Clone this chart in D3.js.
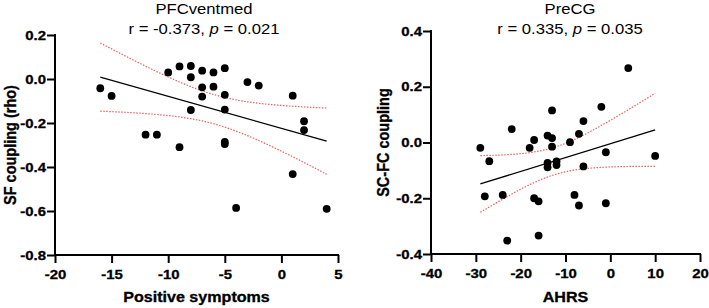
<!DOCTYPE html>
<html>
<head>
<meta charset="utf-8">
<script src="https://cdn.jsdelivr.net/npm/d3@7"></script>
<style>
  body { margin: 0; background: #fff; }
  svg { display: block; font-family: "Liberation Sans", Arial, sans-serif; }
  .axis path, .axis line { stroke: #000; stroke-width: 2; }
  .axis text { font-size: 13px; font-weight: bold; fill: #000; stroke: #000; stroke-width: 0.3; }
  .title { font-size: 14.5px; fill: #000; }
  .axis-label { font-size: 14px; font-weight: bold; fill: #000; stroke: #000; stroke-width: 0.3; }
</style>
</head>
<body>
<svg id="graphic" width="709" height="308"></svg>
<script>
// Left panel: PFCventmed vs positive symptoms
const pfcX = [-16, -15, -12, -11, -10, -9, -9, -8, -8, -8, -7, -7, -7, -6, -6,
  -5, -5, -5, -5, -5, -4, -3, -2, 1, 1, 2, 2, 4];
const pfcY = [-0.042, -0.077, -0.253, -0.253, 0.030, 0.057, -0.310, 0.059, 0.008, -0.141,
  0.038, -0.038, -0.080, 0.030, -0.035, 0.049, -0.072, -0.139, -0.286, -0.296,
  -0.586, -0.014, -0.030, -0.076, -0.432, -0.192, -0.232, -0.590];

// Right panel: PreCG vs AHRS
const precgX = [-29, -28, -27, -24, -23, -22, -18, -17, -17, -16, -16, -14, -14, -14, -13,
  -13, -13, -12, -12, -9, -8, -7, -7, -6, -6, -2, -1, -1, 4, 10];
const precgY = [-0.019, -0.193, -0.067, -0.188, -0.352, 0.048, -0.019, 0.009, -0.200, -0.211,
  -0.334, 0.025, -0.073, -0.089, 0.115, 0.016, -0.015, -0.068, -0.081, 0.001,
  -0.188, 0.031, -0.226, 0.077, -0.086, 0.128, -0.035, -0.218, 0.267, -0.048];

const panels = [
  {
    xs: pfcX, ys: pfcY,
    title: "PFCventmed", r: "-0.373", p: "0.021",
    xLabel: "Positive symptoms", yLabel: "SF coupling (rho)",
    xDomain: [-20, 5], xTicks: [-20, -15, -10, -5, 0, 5],
    yDomain: [-0.8, 0.2], yTicks: [-0.8, -0.6, -0.4, -0.2, 0.0, 0.2],
    left: 55, right: 338, top: 35, bottom: 255,
    titleX: 204, yLabelX: 16, xLabelY: 302
  },
  {
    xs: precgX, ys: precgY,
    title: "PreCG", r: "0.335", p: "0.035",
    xLabel: "AHRS", yLabel: "SC-FC coupling",
    xDomain: [-40, 20], xTicks: [-40, -30, -20, -10, 0, 10, 20],
    yDomain: [-0.4, 0.4], yTicks: [-0.4, -0.2, 0.0, 0.2, 0.4],
    left: 431, right: 700, top: 31, bottom: 254,
    titleX: 570, yLabelX: 389, xLabelY: 302
  }
];

const stretch = 1.15; // glyphs in the reference are a little wide
const svg = d3.select('#graphic');
// plain hyphen for negative numbers, like the original
const locale = d3.formatLocale({ decimal: ".", thousands: ",", grouping: [3], currency: ["", ""], minus: "-" });

// least squares fit + 95% CI of the mean
function fit(xs, ys) {
  const n = xs.length;
  const mx = d3.mean(xs), my = d3.mean(ys);
  let sxx = 0, sxy = 0;
  xs.forEach((x, i) => { sxx += (x - mx) ** 2; sxy += (x - mx) * (ys[i] - my); });
  const b = sxy / sxx, a = my - b * mx;
  let sse = 0;
  xs.forEach((x, i) => { sse += (ys[i] - (a + b * x)) ** 2; });
  const s = Math.sqrt(sse / (n - 2));
  const t = 2.05;
  return { a, b, band: (x) => t * s * Math.sqrt(1 / n + (x - mx) ** 2 / sxx) };
}

panels.forEach(function (pn) {
  const x = d3.scaleLinear().domain(pn.xDomain).range([pn.left, pn.right]);
  const y = d3.scaleLinear().domain(pn.yDomain).range([pn.bottom, pn.top]);
  const g = svg.append('g');

  // axes
  g.append('g')
    .attr('class', 'axis')
    .attr('transform', `translate(${pn.left},0)`)
    .call(d3.axisLeft(y).tickValues(pn.yTicks).tickSize(8).tickPadding(1)
      .tickFormat(locale.format('.1f')))
    .call(a => a.selectAll('path').attr('d', `M0,${pn.top - 1}V${pn.bottom}`))
    .call(a => a.selectAll('text').attr('x', -9 / stretch).attr('transform', `scale(${stretch},1)`));

  g.append('g')
    .attr('class', 'axis')
    .attr('transform', `translate(0,${pn.bottom})`)
    .call(d3.axisBottom(x).tickValues(pn.xTicks).tickSize(8).tickPadding(7)
      .tickFormat(locale.format('d')))
    .call(a => a.selectAll('path').attr('d', `M${pn.left - 1},0H${pn.right + 1}`))
    .call(a => a.selectAll('text').attr('transform', `scale(${stretch},1)`));

  // fit line and confidence band
  const f = fit(pn.xs, pn.ys);
  const ext = d3.extent(pn.xs);
  const grid = d3.range(0, 41).map(i => ext[0] + (ext[1] - ext[0]) * i / 40);
  const line = d3.line().x(d => x(d[0])).y(d => y(d[1]));

  [1, -1].forEach(function (sign) {
    g.append('path')
      .datum(grid.map(v => [v, f.a + f.b * v + sign * f.band(v)]))
      .attr('d', line)
      .attr('fill', 'none')
      .attr('stroke', '#f25c5c')
      .attr('stroke-width', 1.2)
      .attr('stroke-dasharray', '1.5,1.5');
  });

  g.append('path')
    .datum(ext.map(v => [v, f.a + f.b * v]))
    .attr('d', line)
    .attr('fill', 'none')
    .attr('stroke', '#000')
    .attr('stroke-width', 1.3);

  // points
  g.selectAll('circle')
    .data(pn.xs.map((v, i) => [v, pn.ys[i]]))
    .join('circle')
    .attr('cx', d => x(d[0]))
    .attr('cy', d => y(d[1]))
    .attr('r', 3.9)
    .attr('fill', '#000');

  // titles
  g.append('text')
    .attr('class', 'title')
    .attr('transform', `translate(${pn.titleX},13.5) scale(${stretch},1)`)
    .attr('text-anchor', 'middle')
    .text(pn.title);

  const sub = g.append('text')
    .attr('class', 'title')
    .attr('transform', `translate(${pn.titleX},34) scale(${stretch},1)`)
    .attr('text-anchor', 'middle');
  sub.append('tspan').text(`r = ${pn.r}, `);
  sub.append('tspan').style('font-style', 'italic').text('p');
  sub.append('tspan').text(` = ${pn.p}`);

  // axis labels
  g.append('text')
    .attr('class', 'axis-label')
    .attr('transform', `translate(${(pn.left + pn.right) / 2},${pn.xLabelY}) scale(${stretch},1)`)
    .attr('text-anchor', 'middle')
    .text(pn.xLabel);

  g.append('text')
    .attr('class', 'axis-label')
    .attr('transform', `translate(${pn.yLabelX},${(pn.top + pn.bottom) / 2}) rotate(-90) scale(1,${stretch})`)
    .attr('text-anchor', 'middle')
    .style('font-size', '14.5px')
    .text(pn.yLabel);
});
</script>
</body>
</html>
